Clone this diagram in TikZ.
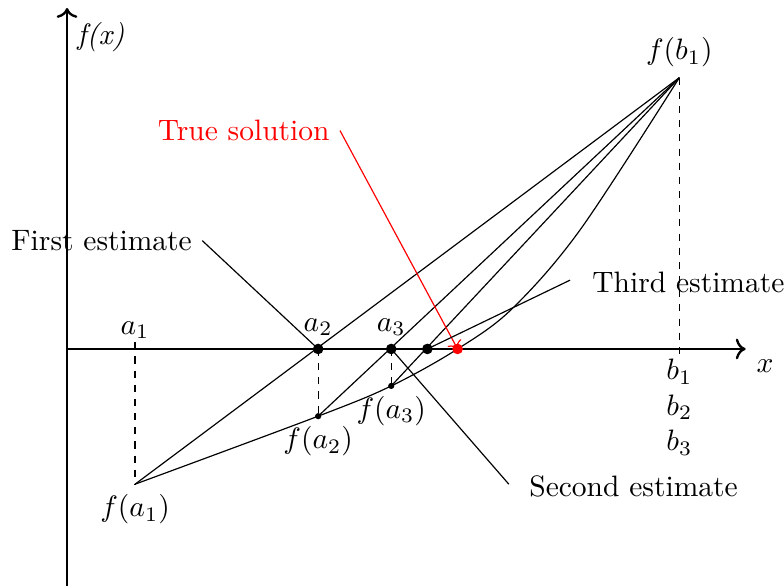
\documentclass[tikz,border=0pt]{standalone}
\usepackage{amsmath}
\usetikzlibrary{arrows.meta,positioning,calc}
\definecolor{truered}{RGB}{255,0,0}

\begin{document}
\begin{tikzpicture}[
    axis/.style={thick,->},
    guide/.style={thin, dash pattern=on 2.4pt off 2.4pt},
    chord/.style={thin},
    pointer/.style={thin},
    bigdot/.style={circle, fill, inner sep=0pt, minimum size=3.6pt},
    smalldot/.style={circle, fill, inner sep=0pt, minimum size=2.1pt}]

  \useasboundingbox (-0.798,-2.821) rectangle (8.536,4.155);

  % axes
  \draw[axis] (0,-2.9) -- (0,4.06) coordinate (ytop);
  \draw[axis] (0,0) -- (8.08,0) node[below right] (xlabel) {$x$};
  \node[anchor=west] (fxlabel) at (0,3.71) {\textit{f(x)}};

  % points of the curve and of the axis
  \coordinate (fa1) at (0.81,-1.61);
  \coordinate (fb1) at (7.29,3.23);
  \coordinate (a1top) at (0.81,0.08);
  \coordinate (b1bot) at (7.29,-0.12);
  \node[smalldot] (fa2) at (2.99,-0.80) {};
  \node[smalldot] (fa3) at (3.86,-0.44) {};

  % function
  \draw[thin] plot[smooth, tension=0.55] coordinates
    {(0.81,-1.61) (2.99,-0.80) (3.86,-0.44) (4.65,0) (5.30,0.48) (6.11,1.42) (7.29,3.23)};

  % chords
  \draw[chord] (fa1) -- (fb1);
  \draw[chord] (fa2.center) -- (fb1);
  \draw[chord] (fa3.center) -- (fb1);

  % dashed guides
  \draw[guide] (a1top) -- (fa1);
  \draw[guide] (2.99,0) -- (fa2.center);
  \draw[guide] (3.86,0) -- (fa3.center);
  \draw[guide] (fb1) -- (b1bot);

  % estimates
  \node[anchor=east, text=truered] (truelabel) at (3.25,2.60) {True solution};
  \node[anchor=east] (firstlabel) at (1.61,1.29) {First estimate};
  \node[anchor=west] (secondlabel) at (5.38,-1.64) {Second estimate};
  \node[anchor=west] (thirdlabel) at (6.13,0.79) {Third estimate};
  \coordinate (secondend) at (5.26,-1.61);
  \coordinate (thirdend) at (5.99,0.82);
  \coordinate (rootpt) at (4.65,0);

  \draw[pointer, truered, ->] (truelabel.east) -- (rootpt);
  \draw[pointer] (firstlabel.east) -- (2.99,0);
  \draw[pointer] (3.86,0) -- (secondend);
  \draw[pointer] (4.29,0) -- (thirdend);

  \node[bigdot] (a2) at (2.99,0) {};
  \node[bigdot] (a3) at (3.86,0) {};
  \node[bigdot] (a4) at (4.29,0) {};
  \node[bigdot, truered] (root) at (rootpt) {};

  % labels on the axis
  \node[above] (a1label) at (0.81,0) {$a_1$};
  \node[above=1pt of a2.center, anchor=south] (a2label) {$a_2$};
  \node[above=1pt of a3.center, anchor=south] (a3label) {$a_3$};
  \node[below, align=center] (blabel) at (7.29,0) {$b_1$\\$b_2$\\$b_3$};
  \node[below] (fa1label) at (fa1) {$f(a_1)$};
  \node[below] (fa2label) at (fa2) {$f(a_2)$};
  \node[below] (fa3label) at (fa3) {$f(a_3)$};
  \node[above] (fb1label) at (fb1) {$f(b_1)$};
\end{tikzpicture}
\end{document}
